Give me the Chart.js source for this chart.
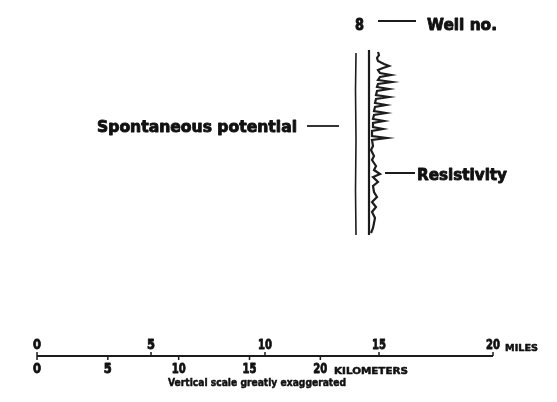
<!DOCTYPE html>
<html>
<head>
<meta charset="utf-8">
<script src="https://cdn.jsdelivr.net/npm/chart.js@4/dist/chart.umd.min.js"></script>
<style>
    body{margin:0;background:#fff;}
    #box{width:557px;height:402px;position:relative;}
</style>
</head>
<body>
<div id="box"><canvas id="wellChart"></canvas></div>
<script>
// scale bar ticks
const mileTicks = [0, 5, 10, 15, 20];
const kmTicks = [0, 5, 10, 15, 20];
const KM_PER_MILE = 1.609344;

// well log: depth (down) and curve value (offset from resistivity baseline)
const spDepth = [53, 90, 140, 190, 235];
const spValue = [-13, -13.5, -13, -13.5, -13];
const baseDepth = [50, 235];
const baseValue = [0, 0];
const resDepth = [52, 55, 58, 61, 64, 66, 68, 70, 73, 75, 77, 80, 82, 84, 87, 89, 91, 95, 97, 99,
    103, 105, 107, 111, 113, 115, 119, 121, 123, 127, 129, 131, 136, 138, 140, 146, 150, 156, 160, 166,
    170, 174, 177, 182, 186, 192, 197, 202, 207, 212, 218, 223, 228, 233];
const resValue = [9, 10, 8, 9, 15, 20, 14, 9, 11, 22, 11, 9, 23, 9, 8, 20, 8, 7, 20, 7,
    6, 17, 6, 5, 17, 5, 4, 15, 4, 4, 14, 3, 3, 18, 3, 4, 2, 5, 3, 7,
    5, 11, 4, 9, 4, 5, 8, 3, 7, 3, 6, 5, 4, 2];

function pts(xs, ys){
    return xs.map((x, i) => ({x: x, y: ys[i]}));
}

function lineSet(data, axis, width){
    return {
        data: data,
        xAxisID: axis,
        yAxisID: 'y',
        showLine: true,
        borderColor: '#1c1c1c',
        borderWidth: width,
        pointRadius: 0,
        tension: 0,
        fill: false
    };
}

const LOG_BASE = 369; // baseline of log in pixel-like units
const SCALE_Y = 356;

// text: [text, axis, x, y(baseline), width, size]
const texts = [
    ['8', 'xr', 355 - LOG_BASE, 30, 9, 15],
    ['Well no.', 'xr', 427 - LOG_BASE, 30, 70, 16],
    ['Spontaneous potential', 'xr', 97 - LOG_BASE, 132, 200, 16],
    ['Resistivity', 'xr', 417 - LOG_BASE, 180, 90, 16],
    ['MILES', 'xr', 505 - LOG_BASE, 351, 33, 9],
    ['KILOMETERS', 'xr', 334 - LOG_BASE, 374, 74, 9],
    ['Vertical scale greatly exaggerated', 'xr', 168 - LOG_BASE, 386, 178, 10]
];

function drawFit(ctx, text, left, base, w, size){
    ctx.font = 'bold ' + size + 'px "DejaVu Sans"';
    const m = ctx.measureText(text).width;
    ctx.save();
    ctx.translate(left, base);
    ctx.scale(w / m, 1);
    ctx.textAlign = 'left';
    ctx.textBaseline = 'alphabetic';
    ctx.fillStyle = '#111';
    ctx.strokeStyle = '#111';
    ctx.lineWidth = size > 12 ? 0.9 : 0.5;
    ctx.lineJoin = 'round';
    ctx.fillText(text, 0, 0);
    ctx.strokeText(text, 0, 0);
    ctx.restore();
}

const textPlugin = {
    id: 'texts',
    afterDatasetsDraw(chart){
        const ctx = chart.ctx;
        const xs = chart.scales.x, xr = chart.scales.xr, y = chart.scales.y;
        texts.forEach(t => {
            drawFit(ctx, t[0], xr.getPixelForValue(t[2]), y.getPixelForValue(t[3]), t[4], t[5]);
        });
        // scale bar numbers
        mileTicks.forEach(m => {
            const w = m < 10 ? 8 : 14;
            drawFit(ctx, String(m), xs.getPixelForValue(m) - w / 2, y.getPixelForValue(SCALE_Y - 7), w, 14);
        });
        kmTicks.forEach(k => {
            const w = k < 10 ? 8 : 14;
            const px = xs.getPixelForValue(k / KM_PER_MILE);
            drawFit(ctx, String(k), px - w / 2, y.getPixelForValue(SCALE_Y + 17), w, 14);
        });
    }
};

const datasets = [
    lineSet(pts(spValue, spDepth), 'xr', 1.6),
    lineSet(pts(baseValue, baseDepth), 'xr', 2.2),
    lineSet(pts(resValue, resDepth), 'xr', 2.2),
    // leaders
    lineSet(pts([9, 47], [21, 21]), 'xr', 1.8),
    lineSet(pts([-62, -30], [126, 126]), 'xr', 1.8),
    lineSet(pts([16, 46], [173, 173]), 'xr', 2),
    // scale bar
    lineSet(pts([0, 20], [SCALE_Y, SCALE_Y]), 'x', 2)
];
mileTicks.forEach(m => datasets.push(lineSet(pts([m, m], [SCALE_Y - 4, SCALE_Y]), 'x', 1.5)));
kmTicks.forEach(k => datasets.push(lineSet(pts([k / KM_PER_MILE, k / KM_PER_MILE], [SCALE_Y, SCALE_Y + 4]), 'x', 1.5)));

function renderChart(){
    const ctx = document.getElementById('wellChart').getContext('2d');
    new Chart(ctx, {
        type: 'scatter',
        data: {datasets: datasets},
        options: {
            responsive: true,
            maintainAspectRatio: false,
            animation: false,
            layout: {padding: 0},
            plugins: {legend: {display: false}, tooltip: {enabled: false}},
            scales: {
                x: {type: 'linear', display: false, min: -37 / 22.8, max: 520 / 22.8},
                xr: {type: 'linear', display: false, min: -LOG_BASE, max: 557 - LOG_BASE},
                y: {type: 'linear', display: false, min: 0, max: 402, reverse: true}
            }
        },
        plugins: [textPlugin]
    });
}

window.onload = function(){
    renderChart();
}
</script>
</body>
</html>
